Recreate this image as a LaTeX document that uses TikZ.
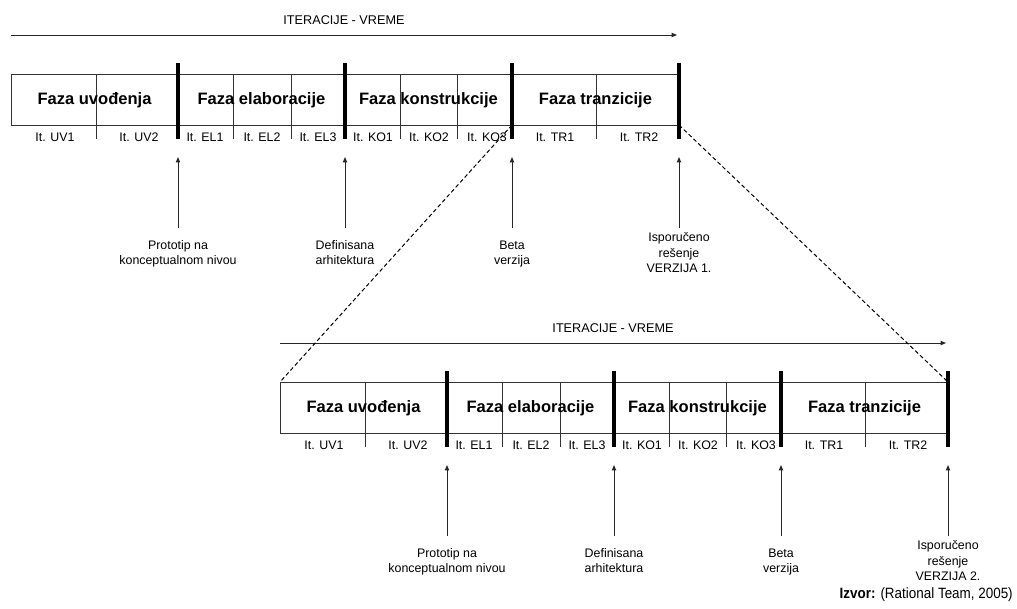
\documentclass[tikz,border=0pt]{standalone}
\usepackage{fontspec}
\setmainfont{Liberation Sans}
\newfontfamily\narrowsans[FakeStretch=0.9]{Liberation Sans}
\usetikzlibrary{arrows.meta}

\tikzset{
  frame/.style={draw=black!80, line width=0.75pt},
  divider/.style={draw=black!80, line width=0.7pt},
  gate/.style={draw=black, line width=2.3pt},
  tipped/.style={draw=black!85, line width=0.75pt, -{Triangle[length=4pt,width=3.2pt]}},
  zoomline/.style={draw=black, line width=0.75pt, dash pattern=on 3pt off 2pt},
  phasetext/.style={font=\fontsize{12.4}{14}\selectfont\bfseries, inner sep=0pt},
  itertext/.style={font=\fontsize{9.3}{11}\selectfont, inner sep=0pt},
  axistext/.style={font=\fontsize{9.5}{11}\selectfont, inner sep=0pt},
  miletext/.style={font=\fontsize{9.3}{11.6}\selectfont, align=center, inner sep=0pt},
  sourcetext/.style={font=\narrowsans\fontsize{11.2}{13}\selectfont, inner sep=0pt},
}

% One RUP cycle: phases, iterations and milestones.
% #1 name prefix, #2/#3 offset, #4 release number
\newcommand{\rupciklus}[4]{%
\begin{scope}[shift={(#2,#3)}]
  \node[axistext] (#1-os) at (344,20) {ITERACIJE - VREME};
  \coordinate (#1-os0) at (11,35);
  \coordinate (#1-os1) at (677,35);
  \draw[tipped] (#1-os0) -- (#1-os1);
  % outer frame of the phase strip
  \coordinate (#1-nw) at (11,74);
  \coordinate (#1-ne) at (679,74);
  \coordinate (#1-sw) at (11,125);
  \coordinate (#1-se) at (679,125);
  \coordinate (#1-s3) at (512,125);
  \draw[frame] (#1-ne) -- (#1-nw) -- (#1-sw) -- (#1-se);
  % iteration dividers
  \foreach \x in {96,233,291,400,457,596}
    \draw[divider] (\x,74) -- (\x,139);
  % phase boundaries
  \foreach \x/\n in {178/1,345/2,512/3,679/4}{
    \coordinate (#1-gt\n) at (\x,63);
    \coordinate (#1-gb\n) at (\x,139);
    \draw[gate] (#1-gt\n) -- (#1-gb\n);
  }
  % phase names
  \node[phasetext] (#1-p1) at (94.5,100) {Faza uvođenja};
  \node[phasetext] (#1-p2) at (261.5,100) {Faza elaboracije};
  \node[phasetext] (#1-p3) at (428.5,100) {Faza konstrukcije};
  \node[phasetext] (#1-p4) at (595.5,100) {Faza tranzicije};
  % iterations
  \node[itertext] (#1-uv1) at (55,137) {It. UV1};
  \node[itertext] (#1-uv2) at (139,137) {It. UV2};
  \node[itertext] (#1-el1) at (205,137) {It. EL1};
  \node[itertext] (#1-el2) at (262,137) {It. EL2};
  \node[itertext] (#1-el3) at (318,137) {It. EL3};
  \node[itertext] (#1-ko1) at (373,137) {It. KO1};
  \node[itertext] (#1-ko2) at (429,137) {It. KO2};
  \node[itertext] (#1-ko3) at (487,137) {It. KO3};
  \node[itertext] (#1-tr1) at (555,137) {It. TR1};
  \node[itertext] (#1-tr2) at (639,137) {It. TR2};
  % milestones
  \foreach \x/\n in {178/1,345/2,512/3,679/4}{
    \coordinate (#1-mt\n) at (\x,157);
    \coordinate (#1-mb\n) at (\x,228);
    \draw[tipped] (#1-mb\n) -- (#1-mt\n);
  }
  \node[miletext] (#1-m1) at (178,254) {\strut Prototip na\\konceptualnom nivou\strut};
  \node[miletext] (#1-m2) at (345,254) {\strut Definisana\\arhitektura\strut};
  \node[miletext] (#1-m3) at (512,254) {\strut Beta\\verzija\strut};
  \node[miletext] (#1-m4) at (679,254) {\strut Isporučeno\\rešenje\\VERZIJA #4.\strut};
\end{scope}}

\begin{document}
\begin{tikzpicture}[x=0.75pt,y=-0.75pt]
  \useasboundingbox (0,0) rectangle (1017,608);
  \rupciklus{a}{0}{0}{1}
  \rupciklus{b}{269}{308}{2}
  % zoom from the construction and transition phases into the next cycle
  \draw[zoomline] (a-s3) -- (b-nw);
  \draw[zoomline] (a-se) -- (b-ne);
  \node[sourcetext, anchor=east] (izvor) at (1013,595)
    {\textbf{Izvor:} (Rational Team, 2005)};
\end{tikzpicture}
\end{document}
